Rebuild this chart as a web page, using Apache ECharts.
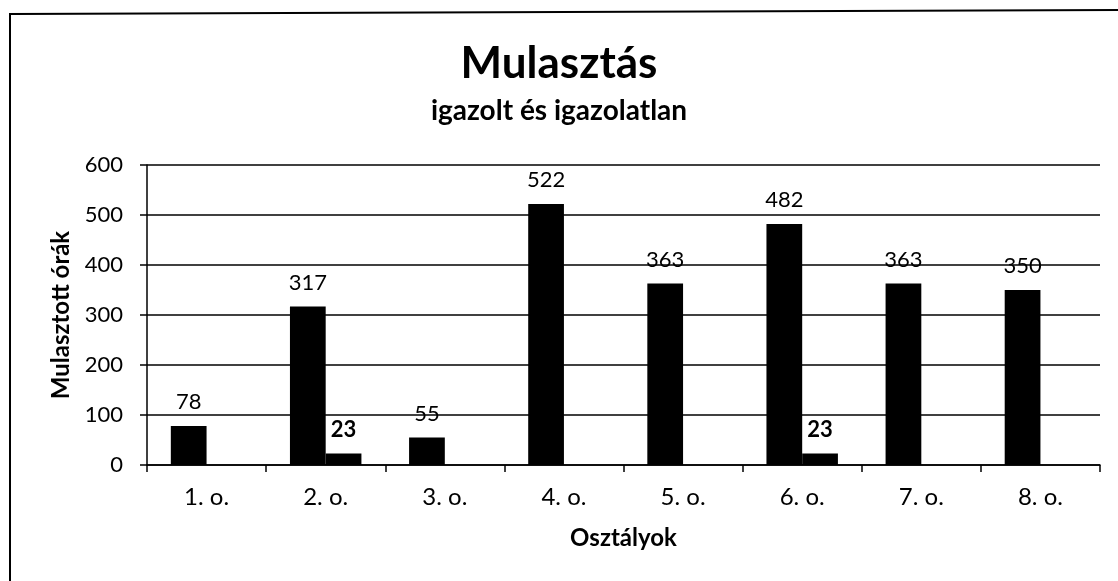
<!DOCTYPE html>
<html>
<head>
<meta charset="utf-8">
<script src="https://cdn.jsdelivr.net/npm/echarts@6/dist/echarts.min.js"></script>
<style>
  html, body { margin: 0; padding: 0; background: #fff; }
  #chart { width: 1118px; height: 581px; }
</style>
</head>
<body>
<div id="chart"></div>
<script>
const categories = ['1. o.', '2. o.', '3. o.', '4. o.', '5. o.', '6. o.', '7. o.', '8. o.'];
const igazolt = [78, 317, 55, 522, 363, 482, 363, 350];
const igazolatlan = [null, 23, null, null, null, 23, null, null];
const yTicks = [0, 100, 200, 300, 400, 500, 600];

const FONT = 'Lato, "Open Sans", sans-serif';
const chart = echarts.init(document.getElementById('chart'));
chart.setOption({
  animation: false,
  backgroundColor: '#fff',
  title: {
    text: 'Mulasztás',
    subtext: 'igazolt és igazolatlan',
    left: 'center',
    top: 37,
    itemGap: 11,
    padding: [5, 0, 5, 22],
    textStyle: { fontFamily: FONT, fontSize: 44, fontWeight: 'bold', color: '#000' },
    subtextStyle: { fontFamily: FONT, fontSize: 28, fontWeight: 'bold', color: '#000' }
  },
  grid: { left: 147, right: 18, top: 165, bottom: 116, containLabel: false },
  xAxis: {
    type: 'category',
    data: categories,
    name: 'Osztályok',
    nameLocation: 'middle',
    nameGap: 61,
    nameTextStyle: { fontFamily: FONT, fontSize: 24, fontWeight: 'bold', color: '#000' },
    axisLine: { lineStyle: { color: '#000', width: 1.5 } },
    axisTick: { show: true, length: 7, lineStyle: { color: '#000', width: 1.5 } },
    axisLabel: { fontFamily: FONT, fontSize: 24, color: '#000', margin: 20 }
  },
  yAxis: {
    type: 'value',
    min: yTicks[0],
    max: yTicks[yTicks.length - 1],
    interval: 100,
    name: 'Mulasztott órák',
    nameLocation: 'middle',
    nameGap: 74,
    nameTextStyle: { fontFamily: FONT, fontSize: 24, fontWeight: 'bold', color: '#000' },
    axisLine: { show: true, lineStyle: { color: '#000', width: 1.5 } },
    axisTick: { show: true, length: 7, lineStyle: { color: '#000', width: 1.5 } },
    axisLabel: { fontFamily: FONT, fontSize: 22, color: '#000', margin: 24 },
    splitLine: { show: true, lineStyle: { color: '#000', width: 1.5 } }
  },
  series: [
    {
      name: 'igazolt',
      type: 'bar',
      data: igazolt,
      barGap: '0%',
      barCategoryGap: '40%',
      itemStyle: { color: '#000' },
      label: { show: true, position: 'top', distance: 13, fontFamily: FONT, fontSize: 22, color: '#000' }
    },
    {
      name: 'igazolatlan',
      type: 'bar',
      data: igazolatlan,
      itemStyle: { color: '#000' },
      label: { show: true, position: 'top', distance: 13, fontFamily: FONT, fontSize: 22, fontWeight: 'bold', color: '#000' }
    }
  ],
  graphic: [
    {
      type: 'polyline',
      shape: { points: [[10, 581], [10, 14], [1118, 10]] },
      style: { stroke: '#000', lineWidth: 2, fill: null },
      silent: true
    }
  ]
});
</script>
</body>
</html>
